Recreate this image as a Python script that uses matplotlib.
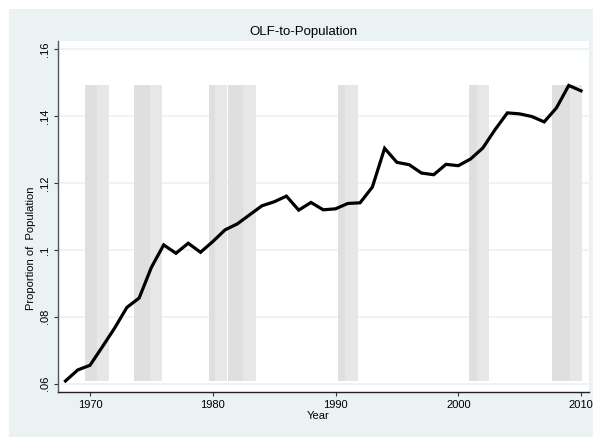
import matplotlib
matplotlib.use("Agg")
import matplotlib.pyplot as plt
from matplotlib.patches import Rectangle

years = list(range(1968, 2011))
olf_pop = [0.0608, 0.0641, 0.0655, 0.0710, 0.0766, 0.0828, 0.0856, 0.0948, 0.1015, 0.0990,
           0.1020, 0.0993,
           0.1025, 0.1060, 0.1078, 0.1105, 0.1132, 0.1144, 0.1161, 0.1119, 0.1142, 0.1120,
           0.1123, 0.1139, 0.1141, 0.1188, 0.1304, 0.1262, 0.1255, 0.1230, 0.1225, 0.1256,
           0.1252, 0.1272, 0.1305, 0.1360, 0.1410, 0.1407, 0.1399, 0.1383, 0.1425, 0.1492,
           0.1476]

# recession shading extents (fractional years as drawn)
rec_start = [1969.6, 1973.56, 1979.7, 1981.27, 1990.24, 2000.9, 2007.6]
rec_end = [1971.55, 1975.89, 1981.17, 1983.5, 1991.8, 2002.5, 2010.1]

yticks = [0.06, 0.08, 0.10, 0.12, 0.14, 0.16]
ytick_labels = [".06", ".08", ".1", ".12", ".14", ".16"]
xticks = [1970, 1980, 1990, 2000, 2010]

plt.rcParams['font.family'] = ['Liberation Sans', 'DejaVu Sans']

W, H = 593, 437
fig = plt.figure(figsize=(W / 100, H / 100), dpi=100)
fig.patch.set_facecolor('white')
bg = Rectangle((9 / W, 0), 1 - 9 / W, 1 - 9 / H, transform=fig.transFigure,
               facecolor='#EAF2F3', edgecolor='none', zorder=-10)
fig.patches.append(bg)

ax = fig.add_axes([58 / W, 1 - 392 / H, (589 - 58) / W, (392 - 41) / H])
ax.set_zorder(5)
ax.set_facecolor('white')

ylo, yhi = min(olf_pop), max(olf_pop)
for s, e in zip(rec_start, rec_end):
    ax.bar(s, yhi - ylo, width=(e - 1) - s, bottom=ylo, align='edge',
           color='#DFDFDF', edgecolor='none', zorder=1)
    ax.bar(e - 1, yhi - ylo, width=1, bottom=ylo, align='edge',
           color='#E7E7E7', edgecolor='none', zorder=1)

ax.plot(years, olf_pop, color='black', lw=2.3, zorder=3, solid_joinstyle='miter')

ax.set_xlim(1967.39, 2010.65)
ax.set_ylim(0.0575, 0.1625)
ax.set_yticks(yticks)
ax.set_yticklabels(ytick_labels, rotation=90, va='center', fontsize=8)
ax.set_xticks(xticks)
ax.set_xticklabels([str(x) for x in xticks], fontsize=8)
ax.yaxis.grid(True, color='#EAF2F3', lw=1.2, zorder=0)
ax.set_axisbelow(True)
ax.tick_params(axis='both', length=3, width=0.8, color='#333333', pad=2.5)

for sp in ['top', 'right']:
    ax.spines[sp].set_visible(False)
ax.spines['left'].set_color('#555555')
ax.spines['bottom'].set_color('#222222')
ax.spines['left'].set_linewidth(1.0)
ax.spines['bottom'].set_linewidth(1.0)

fig.text(303.5 / W, 1 - 32 / H, "OLF-to-Population", ha='center', va='center', fontsize=9.5)
fig.text(31 / W, 1 - 248 / H, "Proportion of  Population", ha='center', va='center',
         rotation=90, fontsize=8)
fig.text(318 / W, 1 - 416 / H, "Year", ha='center', va='center', fontsize=8)

fig.savefig("out.png", dpi=100, facecolor=fig.get_facecolor())
